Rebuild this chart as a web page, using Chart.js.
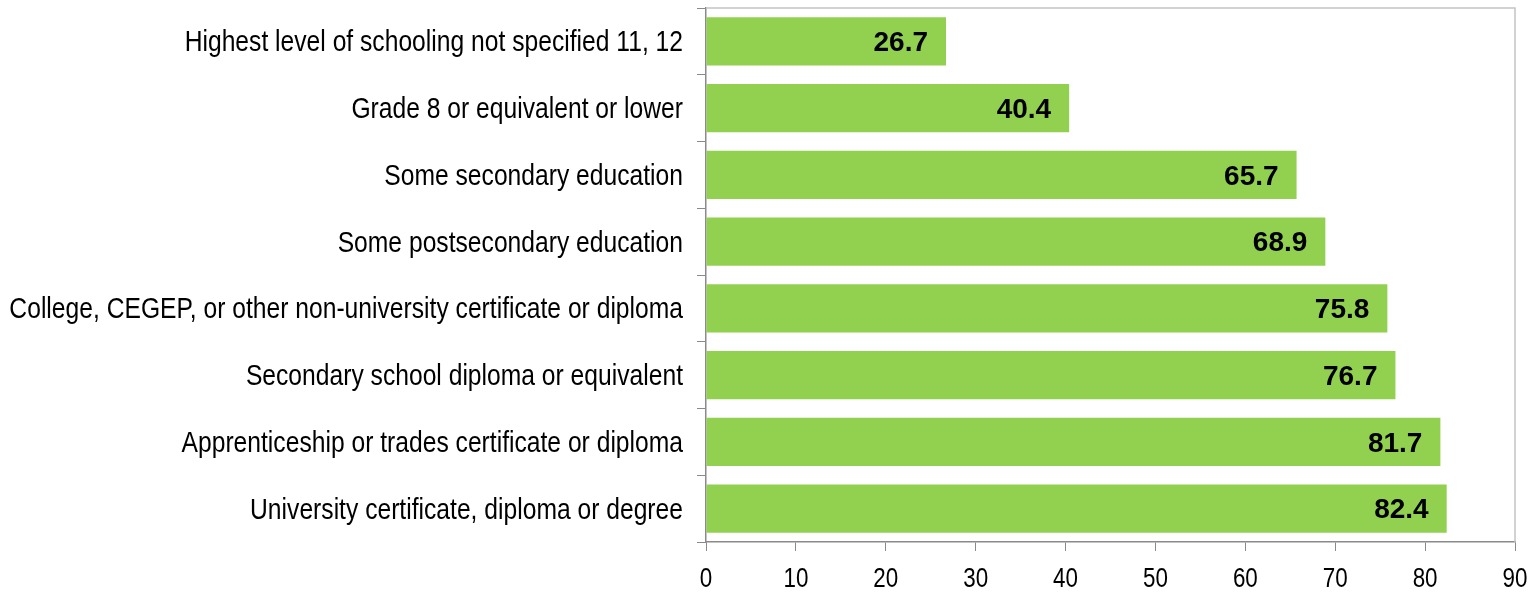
<!DOCTYPE html>
<html>
<head>
<meta charset="utf-8">
<script src="https://cdn.jsdelivr.net/npm/chart.js@4"></script>
<style>
  html, body { margin: 0; padding: 0; background: #fff; }
  #wrap { width: 1535px; height: 593px; }
</style>
</head>
<body>
<div id="wrap"><canvas id="myChart" width="1535" height="593"></canvas></div>
<script>
var categories = [
    "Highest level of schooling not specified 11, 12",
    "Grade 8 or equivalent or lower",
    "Some secondary education",
    "Some postsecondary education",
    "College, CEGEP, or other non-university certificate or diploma",
    "Secondary school diploma or equivalent",
    "Apprenticeship or trades certificate or diploma",
    "University certificate, diploma or degree"
];
var rates = [26.7, 40.4, 65.7, 68.9, 75.8, 76.7, 81.7, 82.4];
var xTicks = [0, 10, 20, 30, 40, 50, 60, 70, 80, 90];

var fontFamily = "'Liberation Sans', Arial, sans-serif";

// the original uses a narrow face; squeeze the regular one horizontally
function narrowText(ctx, text, x, y, squeeze) {
    ctx.save();
    ctx.translate(x, y);
    ctx.scale(squeeze, 1);
    ctx.fillText(text, 0, 0);
    ctx.restore();
}

var labelsPlugin = {
    id: 'labelsPlugin',
    afterDraw: function(chart) {
        var ctx = chart.ctx;
        var a = chart.chartArea;
        var xs = chart.scales.x;
        var ys = chart.scales.y;
        ctx.save();

        // light frame on top and right
        ctx.strokeStyle = '#c4c4c4';
        ctx.lineWidth = 1.5;
        ctx.beginPath();
        ctx.moveTo(a.left, a.top);
        ctx.lineTo(a.right, a.top);
        ctx.lineTo(a.right, a.bottom);
        ctx.stroke();

        // values at the inner end of each bar
        ctx.font = "bold 28px " + fontFamily;
        ctx.fillStyle = '#000';
        ctx.textAlign = 'right';
        ctx.textBaseline = 'middle';
        chart.getDatasetMeta(0).data.forEach(function(bar, i) {
            ctx.fillText(rates[i].toFixed(1), bar.x - 18, bar.y + 2);
        });

        // category labels
        ctx.font = "29px " + fontFamily;
        categories.forEach(function(c, i) {
            narrowText(ctx, c, a.left - 23, ys.getPixelForValue(i) + 2, 0.85);
        });

        // value axis labels
        ctx.font = "28px " + fontFamily;
        ctx.textAlign = 'center';
        xTicks.forEach(function(v) {
            narrowText(ctx, String(v), xs.getPixelForValue(v), a.bottom + 37, 0.8);
        });
        ctx.restore();
    }
};

var ctx = document.getElementById('myChart').getContext('2d');
var chart = new Chart(ctx, {
    type: 'bar',
    data: {
        labels: categories,
        datasets: [{
            label: 'Rate',
            data: rates,
            backgroundColor: '#92D050',
            borderWidth: 0,
            categoryPercentage: 1.0,
            barPercentage: 0.72
        }]
    },
    options: {
        indexAxis: 'y',
        responsive: false,
        animation: false,
        layout: { padding: { top: 8, right: 20, bottom: 0, left: 0 } },
        plugins: {
            legend: { display: false },
            tooltip: { enabled: false }
        },
        scales: {
            x: {
                min: 0,
                max: 90,
                afterBuildTicks: function(axis) {
                    axis.ticks = xTicks.map(function(v) { return { value: v }; });
                },
                afterFit: function(axis) { axis.height = 51; },
                grid: { drawOnChartArea: false, drawTicks: true, tickLength: 9, color: '#8a8a8a' },
                border: { display: true, color: '#8a8a8a', width: 1.5 },
                ticks: { display: false }
            },
            y: {
                afterFit: function(axis) { axis.width = 706; },
                grid: { drawOnChartArea: false, drawTicks: true, tickLength: 9, color: '#8a8a8a', offset: true },
                border: { display: true, color: '#8a8a8a', width: 1.5 },
                ticks: { display: false }
            }
        }
    },
    plugins: [labelsPlugin]
});
</script>
</body>
</html>
